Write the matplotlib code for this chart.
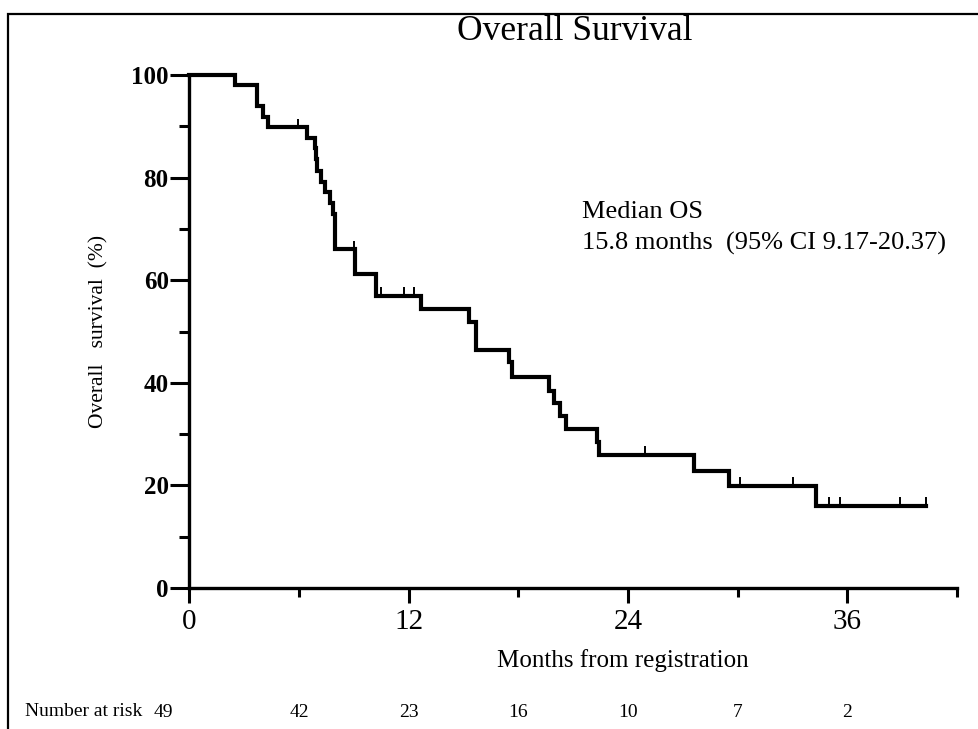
import numpy as np
import matplotlib
matplotlib.use('Agg')
from matplotlib import pyplot as plt
from matplotlib.patches import Rectangle

# Kaplan-Meier steps (months, survival %)
event_times = [2.49, 3.67, 4.0, 4.3, 6.42, 6.85, 6.9, 6.95, 7.22, 7.4, 7.68, 7.86, 7.95,
               9.04, 10.23, 12.65, 15.27, 15.69, 17.51, 17.65, 19.7, 19.97, 20.25, 20.6,
               22.3, 22.43, 27.62, 29.54, 34.27]
survival = [97.96, 93.9, 91.8, 89.8, 87.8, 85.7, 83.6, 81.2, 79.2, 77.1, 75.0, 72.9, 66.0,
            61.3, 56.9, 54.3, 51.8, 46.4, 44.0, 41.2, 38.4, 36.0, 33.6, 31.0,
            28.4, 25.9, 22.9, 19.9, 16.0]
censor_times = [5.95, 9.0, 10.5, 11.72, 12.28, 24.9, 30.1, 33.05, 35.0, 35.6, 38.9, 40.3]

risk_times = [0, 6, 12, 18, 24, 30, 36]
risk_counts = [49, 42, 23, 16, 10, 7, 2]

x_major = [0, 12, 24, 36]
x_minor = [6, 18, 30, 42]
y_major = [0, 20, 40, 60, 80, 100]
y_minor = [10, 30, 50, 70, 90]

plt.rcParams['font.family'] = 'Liberation Serif'


def surv_at(t):
    i = np.searchsorted(event_times, t, side='right')
    return 100.0 if i == 0 else survival[i - 1]


fig = plt.figure(figsize=(9.79, 7.29), dpi=100)
W, H = 979, 729
x0, x1, y0, y1 = 189.5, 957, 588, 75
ax = fig.add_axes([x0 / W, 1 - y0 / H, (x1 - x0) / W, (y0 - y1) / H])

# frame around the whole figure (cut at right and bottom)
fig.patches.append(Rectangle((8 / W, -0.1), 1.2, 1.1 - 14 / H, transform=fig.transFigure,
                             fill=False, lw=1.6, ec='black'))

xs = [0] + event_times + [censor_times[-1]]
ys = [100] + survival + [survival[-1]]
ax.step(xs, ys, where='post', color='black', lw=3.0, solid_joinstyle='miter', clip_on=False)

cy = [surv_at(t) for t in censor_times]
ax.vlines(censor_times, cy, np.array(cy) + 1.7, color='black', lw=1.4, clip_on=False)

ax.set_xlim(0, 42)
ax.set_ylim(0, 100)
for s in ['top', 'right']:
    ax.spines[s].set_visible(False)
for s in ['left', 'bottom']:
    ax.spines[s].set_linewidth(2.4)

ax.set_xticks(x_major)
ax.set_xticks(x_minor, minor=True)
ax.set_yticks(y_major)
ax.set_yticks(y_minor, minor=True)
ax.tick_params(axis='x', which='major', length=11, width=2.2, pad=4, labelsize=21)
ax.tick_params(axis='x', which='minor', length=6.5, width=2.2)
ax.tick_params(axis='y', which='major', length=14, width=2.2, pad=1, labelsize=18)
ax.tick_params(axis='y', which='minor', length=7, width=2.2)
for lab in ax.get_yticklabels():
    lab.set_fontweight('bold')

ax.set_ylabel('Overall   survival  (%)', fontsize=15.5)
ax.yaxis.set_label_coords(-0.105, 0.5)
ax.set_xlabel('Months from registration', fontsize=18)
ax.xaxis.set_label_coords(0.565, -0.118)

fig.text(575 / W, 1 - 31 / H, 'Overall Survival', ha='center', va='center', fontsize=25.5)

ax.text(21.5, 73.3, 'Median OS', fontsize=19, ha='left', va='center')
ax.text(21.5, 67.2, '15.8 months  (95% CI 9.17-20.37)', fontsize=19, ha='left', va='center')

# number at risk row
fig.text(25 / W, 1 - 712 / H, 'Number at risk', fontsize=14, ha='left', va='center')
for i, (t, n) in enumerate(zip(risk_times, risk_counts)):
    dx = -1.45 if i == 0 else 0
    ax.text(t + dx, -24.2, str(n), fontsize=14, ha='center', va='center', clip_on=False)

fig.savefig('out.png', dpi=100)
